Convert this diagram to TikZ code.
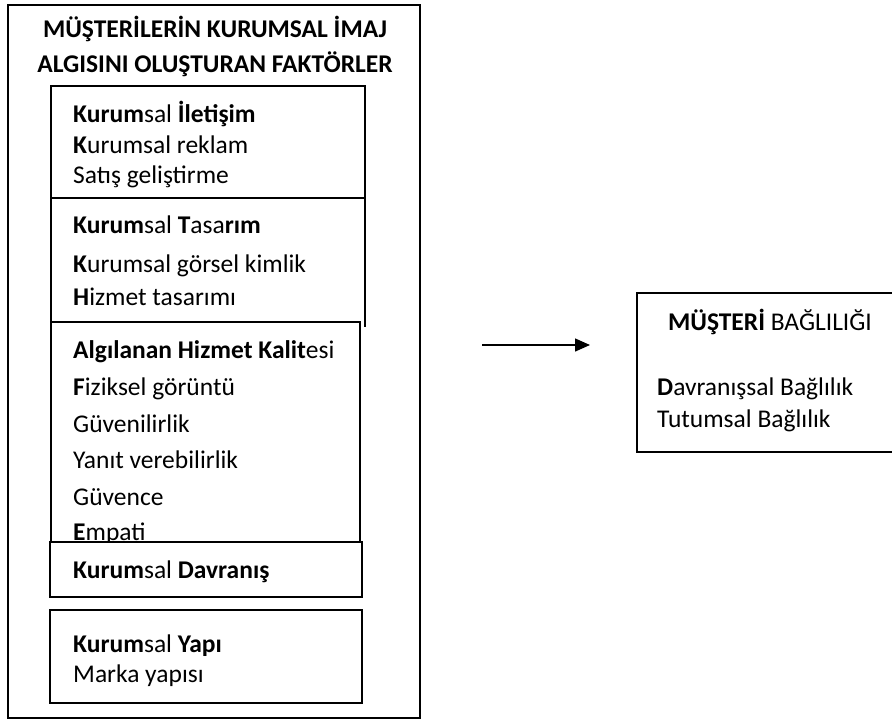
\documentclass[tikz,border=0pt]{standalone}
\usepackage{fontspec}
\setmainfont{Carlito}
\usetikzlibrary{arrows.meta}

\newcommand{\boxfont}{\fontsize{25.5}{30}\selectfont}

\tikzset{
  box/.style={draw, line width=2.2pt},
  item/.style={anchor=base west, inner sep=0pt, font=\boxfont},
  head/.style={anchor=base, inner sep=0pt, font=\boxfont\bfseries}
}

\begin{document}
\begin{tikzpicture}[x=1pt, y=-1pt]

  \useasboundingbox (0,0) rectangle (892,724);

  % outer frame
  \draw[box] (8,5) rectangle (420,718);
  \node[head] (title1) at (215,37) {MÜŞTERİLERİN KURUMSAL İMAJ};
  \node[head] (title2) at (215,72) {ALGISINI OLUŞTURAN FAKTÖRLER};

  % iletisim
  \draw[box] (51,86) rectangle (365,198);
  \node[item] (ilet) at (73,122) {\textbf{Kurum}sal \textbf{İletişim}};
  \node[item] (reklam) at (73,153) {\textbf{K}urumsal reklam};
  \node[item] (satis) at (73,183) {Satış geliştirme};

  % tasarim
  \draw[box] (51,322) -- (51,198) -- (365,198) -- (365,327);
  \node[item] (tasarim) at (73,233) {\textbf{Kurum}sal \textbf{T}asa\textbf{rım}};
  \node[item] (gorsel) at (73,272) {\textbf{K}urumsal görsel kimlik};
  \node[item] (hizmet) at (73,305) {\textbf{H}izmet tasarımı};

  % hizmet kalitesi
  \draw[box] (51,322) rectangle (360,542);
  \node[item] (kalite) at (73,358) {\textbf{Algılanan Hizmet Kalit}esi};
  \node[item] (fiziksel) at (73,395) {\textbf{F}iziksel görüntü};
  \node[item] (guven) at (73,432) {Güvenilirlik};
  \node[item] (yanit) at (73,468) {Yanıt verebilirlik};
  \node[item] (guvence) at (73,505) {Güvence};
  \node[item] (empati) at (73,540) {\textbf{E}mpati};

  % davranis
  \draw[box, fill=white] (50,542) rectangle (362,597);
  \node[item] (davranis) at (73,578) {\textbf{Kurum}sal \textbf{Davranış}};

  % yapi
  \draw[box] (50,610) rectangle (362,703);
  \node[item] (yapi) at (73,652) {\textbf{Kurum}sal \textbf{Yapı}};
  \node[item] (marka) at (73,682) {Marka yapısı};

  % arrow
  \coordinate (from) at (482,345);
  \coordinate (to) at (590,345);
  \draw[line width=1.4pt, -{Triangle[length=15pt,width=13pt]}] (from) -- (to);

  % musteri bagliligi
  \draw[box] (637,293) rectangle (900,452);
  \node[head] (bag) at (770,330) {MÜŞTERİ \mdseries BAĞLILIĞI};
  \node[item] (davr) at (657,395) {\textbf{D}avranışsal Bağlılık};
  \node[item] (tutum) at (657,427) {Tutumsal Bağlılık};

\end{tikzpicture}
\end{document}
